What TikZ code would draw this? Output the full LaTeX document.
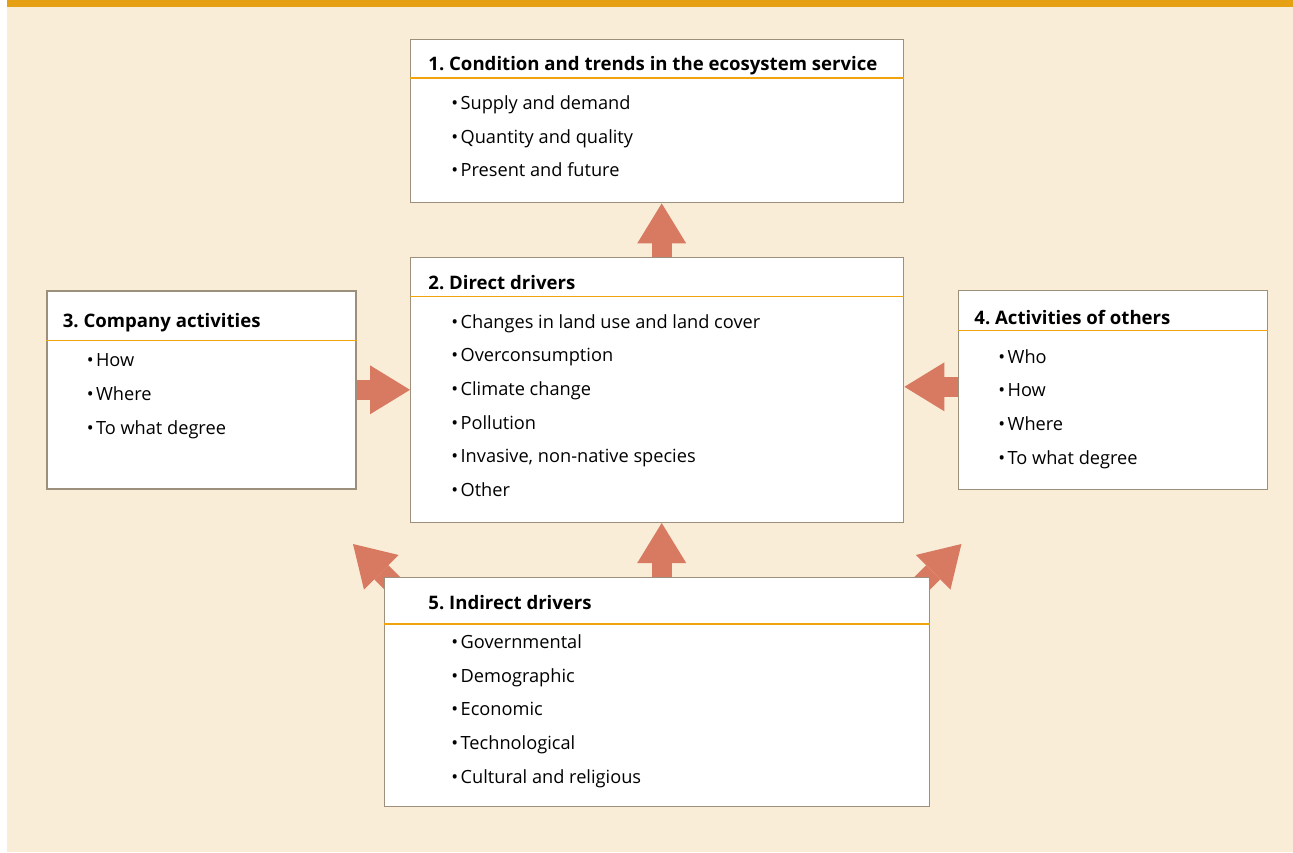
\documentclass[tikz,border=0pt]{standalone}
\usepackage{fontspec}
\setmainfont{Open Sans}
\usepackage{tikz}
\usetikzlibrary{positioning,arrows.meta,calc}
\definecolor{cream}{HTML}{FAEDD7}
\definecolor{barorange}{HTML}{E5A013}
\definecolor{flowred}{HTML}{D77A61}
\definecolor{boxline}{HTML}{9C8F7C}
\definecolor{headline}{HTML}{F0A30A}
\pgfdeclarelayer{back}
\pgfdeclarelayer{mid}
\pgfsetlayers{back,mid,main}
\frenchspacing

\begin{document}
\begin{tikzpicture}[x=0.5pt, y=-0.5pt,
    box/.style={draw=boxline, line width=0.7pt, fill=white, inner sep=0pt},
    head/.style={anchor=west, inner sep=0pt, font=\fontsize{9.3}{11}\selectfont\bfseries,
                 text height=1.5ex, text depth=.25ex},
    item/.style={anchor=west, inner sep=0pt, font=\fontsize{9.1}{11}\selectfont,
                 text height=1.5ex, text depth=.25ex},
    rule/.style={draw=headline, line width=0.55pt},
    flow/.style={draw=flowred, line width=10pt,
                 -{Triangle[length=20pt 0 0, width=24.5pt 0 0, line width=0pt, fill=flowred]}}]
    \useasboundingbox (0,0) rectangle (1293,852);
    \begin{pgfonlayer}{back}
      \fill[cream] (7,7) rectangle (1293,852);
      \fill[barorange] (7,0) rectangle (1293,7);
    \end{pgfonlayer}

    % boxes
    \node[box, anchor=north west, minimum width=246.5pt, minimum height=81.5pt] (b1) at (410,39) {};
    \node[box, minimum width=246.5pt, minimum height=132.5pt, below=26.6pt of b1] (b2) {};
    \node[box, minimum width=154.5pt, minimum height=99pt, left=26.6pt of b2] (b3) {};
    \node[box, minimum width=154.5pt, minimum height=99.5pt, right=26.8pt of b2] (b4) {};
    \node[box, minimum width=272.5pt, minimum height=114.5pt, below=27pt of b2] (b5) {};

    % headers
    \node[head] (h1) at ([xshift=9pt, yshift=-12.3pt]b1.north west) {1. Condition and trends in the ecosystem service};
    \node[head] (h2) at ([xshift=9pt, yshift=-13pt]b2.north west) {2. Direct drivers};
    \node[head] (h3) at ([xshift=8pt, yshift=-15.5pt]b3.north west) {3. Company activities};
    \node[head] (h4) at ([xshift=8pt, yshift=-14pt]b4.north west) {4. Activities of others};
    \node[head] (h5) at ([xshift=22pt, yshift=-13pt]b5.north west) {5. Indirect drivers};
    \draw[rule] ([yshift=-19.5pt]b1.north west) -- ([yshift=-19.5pt]b1.north east);
    \draw[rule] ([yshift=-20pt]b2.north west) -- ([yshift=-20pt]b2.north east);
    \draw[rule] ([yshift=-25pt]b3.north west) -- ([yshift=-25pt]b3.north east);
    \draw[rule] ([yshift=-20.5pt]b4.north west) -- ([yshift=-20.5pt]b4.north east);
    \draw[rule] ([yshift=-23.5pt]b5.north west) -- ([yshift=-23.5pt]b5.north east);

    % items
    \foreach \t [count=\i] in {Supply and demand, Quantity and quality, Present and future}
      \node[item] (b1i\i) at ([xshift=20.5pt, yshift={-15.2pt-\i*16.8pt}]b1.north west) {•\hspace{1.2pt}\t};
    \foreach \t [count=\i] in {Changes in land use and land cover, Overconsumption, Climate change,
                               Pollution, {Invasive, non-native species}, Other}
      \node[item] (b2i\i) at ([xshift=20.5pt, yshift={-15.7pt-\i*16.8pt}]b2.north west) {•\hspace{1.2pt}\t};
    \foreach \t [count=\i] in {How, Where, To what degree}
      \node[item] (b3i\i) at ([xshift=20pt, yshift={-18.2pt-\i*16.8pt}]b3.north west) {•\hspace{1.2pt}\t};
    \foreach \t [count=\i] in {Who, How, Where, To what degree}
      \node[item] (b4i\i) at ([xshift=20pt, yshift={-16.7pt-\i*16.8pt}]b4.north west) {•\hspace{1.2pt}\t};
    \foreach \t [count=\i] in {Governmental, Demographic, Economic, Technological, Cultural and religious}
      \node[item] (b5i\i) at ([xshift=33.5pt, yshift={-15.7pt-\i*16.8pt}]b5.north west) {•\hspace{1.2pt}\t};

    % arrows
    \coordinate (tipL) at ([shift={(-15.5pt,16.5pt)}]b5.north west);
    \coordinate (tipR) at ([shift={(15.5pt,16.5pt)}]b5.north east);
    \begin{pgfonlayer}{mid}
      \draw[flow] ([xshift=2.25pt]b2.north) -- ([xshift=2.25pt]b1.south);
      \draw[flow] ([xshift=2.25pt]b5.north) -- ([xshift=2.25pt]b2.south);
      \draw[flow] (b3.east) -- (b3.east -| b2.west);
      \draw[flow] ([yshift=1.5pt]b4.west) -- ([yshift=1.5pt]b4.west -| b2.east);
      \draw[flow] ([shift={(11pt,-10pt)}]b5.north west) -- (tipL);
      \draw[flow] ([shift={(-11pt,-10pt)}]b5.north east) -- (tipR);
    \end{pgfonlayer}
\end{tikzpicture}
\end{document}
